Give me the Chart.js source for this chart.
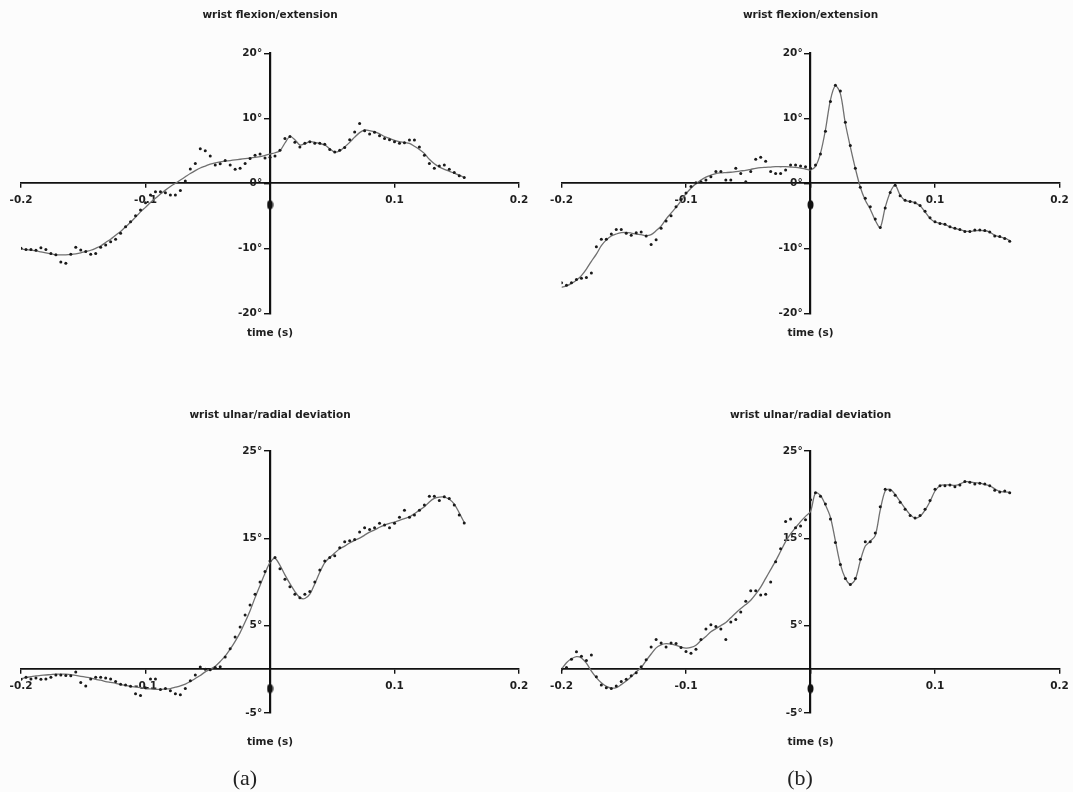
<!DOCTYPE html>
<html lang="en">
<head>
<meta charset="UTF-8">
<title>Wrist angles around ball impact</title>
<script src="https://cdn.jsdelivr.net/npm/chart.js"></script>
<style>
  html, body { margin: 0; padding: 0; background: #fcfcfc; }
  #page { position: relative; width: 1073px; height: 792px; overflow: hidden; }
  canvas { position: absolute; }
  .panel-label {
    position: absolute; top: 765px; width: 60px; margin-left: -30px;
    text-align: center; font-family: 'Liberation Serif', 'DejaVu Serif', serif;
    font-size: 22px; line-height: 26px; color: #222;
  }
</style>
</head>
<body>
<div id="page">
  <canvas id="flexA" width="540" height="390" style="left:0;top:0"></canvas>
  <canvas id="flexB" width="533" height="390" style="left:540px;top:0"></canvas>
  <canvas id="devA" width="540" height="402" style="left:0;top:390px"></canvas>
  <canvas id="devB" width="533" height="402" style="left:540px;top:390px"></canvas>
  <div class="panel-label" style="left:245px">(a)</div>
  <div class="panel-label" style="left:800px">(b)</div>
</div>

<script>
// sample instants (s), 250 Hz, impact at t = 0
const sampleTimes = [
  -0.200, -0.196, -0.192, -0.188, -0.184, -0.180, -0.176, -0.172, -0.168, -0.164,
  -0.160, -0.156, -0.152, -0.148, -0.144, -0.140, -0.136, -0.132, -0.128, -0.124,
  -0.120, -0.116, -0.112, -0.108, -0.104, -0.100, -0.096, -0.092, -0.088, -0.084,
  -0.080, -0.076, -0.072, -0.068, -0.064, -0.060, -0.056, -0.052, -0.048, -0.044,
  -0.040, -0.036, -0.032, -0.028, -0.024, -0.020, -0.016, -0.012, -0.008, -0.004,
  0.000, 0.004, 0.008, 0.012, 0.016, 0.020, 0.024, 0.028, 0.032, 0.036,
  0.040, 0.044, 0.048, 0.052, 0.056, 0.060, 0.064, 0.068, 0.072, 0.076,
  0.080, 0.084, 0.088, 0.092, 0.096, 0.100, 0.104, 0.108, 0.112, 0.116,
  0.120, 0.124, 0.128, 0.132, 0.136, 0.140, 0.144, 0.148, 0.152, 0.156,
  0.160
];

// (a) wrist flexion/extension, degrees
const flexionFitA = [
  -10.1, -10.2, -10.3, -10.4, -10.55, -10.7, -10.85, -11.0, -11.0, -11.0,
  -10.95, -10.85, -10.7, -10.5, -10.3, -10.0, -9.65, -9.1, -8.6, -8.0,
  -7.4, -6.7, -6.0, -5.2, -4.4, -3.7, -2.95, -2.3, -1.65, -1.05,
  -0.5, 0.0, 0.5, 1.0, 1.5, 1.95, 2.35, 2.65, 2.95, 3.15,
  3.3, 3.4, 3.5, 3.6, 3.7, 3.8, 3.9, 4.0, 4.1, 4.3,
  4.5, 4.7, 5.0, 6.2, 7.2, 6.7, 5.9, 6.1, 6.4, 6.3,
  6.1, 5.9, 5.3, 4.8, 5.0, 5.6, 6.3, 7.1, 7.8, 8.2,
  8.1, 7.95, 7.6, 7.2, 6.9, 6.6, 6.4, 6.3, 6.15, 5.7,
  5.2, 4.6, 3.7, 3.0, 2.5, 2.15, 1.85, 1.55, 1.25, 0.9
];
const flexionDotsA = [
  -10.0, -10.2, -10.2, -10.3, -9.9, -10.2, -10.8, -11.0, -12.1, -12.3,
  -10.9, -9.85, -10.25, -10.5, -10.9, -10.8, -9.85, -9.5, -9.0, -8.6,
  -7.7, -6.7, -5.9, -5.0, -4.1, -3.0, -1.8, -1.3, -1.3, -1.45,
  -1.8, -1.8, -1.1, 0.35, 2.2, 3.05, 5.3, 5.0, 4.2, 2.8,
  3.0, 3.5, 2.8, 2.15, 2.3, 3.05, 3.8, 4.3, 4.5, 3.9,
  4.0, 4.2, 5.1, 6.9, 7.2, 6.3, 5.6, 6.15, 6.4, 6.15,
  6.15, 6.0, 5.2, 4.8, 5.1, 5.5, 6.7, 7.9, 9.2, 8.1,
  7.6, 7.85, 7.3, 6.9, 6.7, 6.4, 6.15, 6.25, 6.65, 6.65,
  5.6, 4.3, 3.05, 2.3, 2.65, 2.8, 2.15, 1.65, 1.15, 0.9
];

// (b) wrist flexion/extension, degrees
const flexionFitB = [
  -16.0, -15.8, -15.4, -14.9, -14.2, -13.2, -12.0, -10.9, -9.6, -8.7,
  -8.1, -7.8, -7.6, -7.55, -7.65, -7.8, -7.9, -8.05, -7.9, -7.3,
  -6.6, -5.5, -4.6, -3.7, -2.7, -1.6, -0.75, -0.05, 0.5, 0.95,
  1.25, 1.5, 1.6, 1.65, 1.7, 1.8, 1.9, 2.0, 2.15, 2.3,
  2.4, 2.45, 2.5, 2.55, 2.55, 2.55, 2.5, 2.45, 2.35, 2.2,
  2.05, 2.6, 4.6, 8.2, 12.8, 15.0, 13.8, 9.2, 5.6, 2.3,
  -0.6, -2.6, -4.0, -5.7, -6.8, -3.7, -1.4, -0.3, -1.8, -2.65,
  -2.8, -3.0, -3.45, -4.4, -5.4, -5.95, -6.15, -6.35, -6.7, -6.95,
  -7.15, -7.35, -7.4, -7.3, -7.25, -7.3, -7.5, -8.0, -8.25, -8.45,
  -8.8
];
const flexionDotsB = [
  -15.3, -15.7, -15.3, -14.8, -14.6, -14.5, -13.8, -9.75, -8.6, -8.6,
  -7.8, -7.1, -7.1, -7.7, -8.0, -7.6, -7.5, -8.1, -9.4, -8.7,
  -6.9, -5.8, -5.0, -3.6, -2.5, -1.5, -0.5, 0.1, 0.25, 0.5,
  1.0, 1.8, 1.8, 0.5, 0.5, 2.3, 1.5, 0.25, 1.8, 3.7,
  4.0, 3.4, 1.8, 1.5, 1.5, 2.05, 2.8, 2.8, 2.65, 2.55,
  2.3, 2.8, 4.5, 8.0, 12.6, 15.1, 14.2, 9.4, 5.8, 2.3,
  -0.6, -2.3, -3.6, -5.5, -6.8, -3.8, -1.4, -0.3, -1.9, -2.6,
  -2.8, -3.0, -3.4, -4.3, -5.3, -5.9, -6.2, -6.3, -6.7, -6.9,
  -7.1, -7.4, -7.4, -7.2, -7.2, -7.25, -7.5, -8.1, -8.2, -8.5,
  -8.9
];

// (a) wrist ulnar/radial deviation, degrees
const deviationFitA = [
  -1.1, -0.95, -0.85, -0.75, -0.7, -0.65, -0.6, -0.55, -0.55, -0.55,
  -0.6, -0.7, -0.8, -0.9, -1.0, -1.15, -1.25, -1.4, -1.5, -1.6,
  -1.75, -1.85, -1.95, -2.05, -2.1, -2.2, -2.25, -2.3, -2.3, -2.25,
  -2.2, -2.05, -1.9, -1.7, -1.4, -1.05, -0.7, -0.3, 0.0, 0.35,
  0.9, 1.5, 2.3, 3.2, 4.2, 5.4, 6.7, 8.2, 9.6, 11.0,
  12.2, 12.7, 11.9, 10.8, 9.8, 8.9, 8.2, 8.1, 8.6, 9.8,
  11.1, 12.2, 12.8, 13.3, 13.8, 14.1, 14.45, 14.75, 15.0, 15.35,
  15.7, 15.95, 16.25, 16.5, 16.7, 16.85, 17.05, 17.25, 17.45, 17.8,
  18.2, 18.6, 19.15, 19.55, 19.7, 19.7, 19.45, 18.9, 17.9, 16.8
];
const deviationDotsA = [
  -1.15, -0.9, -1.1, -1.0, -1.15, -1.1, -0.9, -0.65, -0.65, -0.7,
  -0.75, -0.3, -1.5, -1.9, -1.1, -0.9, -0.9, -1.0, -1.1, -1.4,
  -1.7, -1.8, -1.95, -2.8, -3.0, -2.1, -1.1, -1.1, -2.3, -2.2,
  -2.45, -2.8, -2.9, -2.2, -1.3, -0.65, 0.25, 0.0, -0.05, 0.2,
  0.3, 1.4, 2.35, 3.7, 4.85, 6.2, 7.35, 8.6, 10.0, 11.2,
  12.4, 12.8, 11.5, 10.3, 9.45, 8.6, 8.2, 8.6, 8.9, 10.0,
  11.35, 12.4, 12.8, 13.0, 13.9, 14.6, 14.7, 14.85, 15.7, 16.2,
  16.0, 16.2, 16.7, 16.5, 16.2, 16.7, 17.4, 18.2, 17.4, 17.65,
  18.2, 18.8, 19.8, 19.8, 19.3, 19.75, 19.55, 18.8, 17.65, 16.75
];

// (b) wrist ulnar/radial deviation, degrees
const deviationFitB = [
  0.0, 0.75, 1.2, 1.45, 1.3, 0.7, -0.2, -0.95, -1.55, -1.95,
  -2.15, -2.1, -1.75, -1.35, -0.85, -0.3, 0.2, 1.0, 1.75, 2.45,
  2.8, 2.93, 2.88, 2.75, 2.55, 2.43, 2.5, 2.75, 3.3, 3.75,
  4.3, 4.65, 5.0, 5.35, 5.9, 6.45, 6.95, 7.4, 7.9, 8.6,
  9.4, 10.4, 11.4, 12.4, 13.5, 14.6, 15.5, 16.2, 16.9, 17.5,
  18.05, 20.2, 19.9, 18.8, 17.4, 14.7, 12.0, 10.4, 9.75, 10.3,
  12.4, 14.1, 14.65, 15.3, 18.2, 20.4, 20.6, 20.0, 19.2, 18.4,
  17.7, 17.3, 17.5, 18.2, 19.2, 20.4, 21.0, 21.1, 21.1, 21.05,
  21.2, 21.45, 21.45, 21.35, 21.3, 21.15, 21.0, 20.65, 20.35, 20.3,
  20.25
];
const deviationDotsB = [
  0.0, 0.2, 1.15, 2.0, 1.5, 1.0, 1.65, -0.85, -1.8, -2.1,
  -2.2, -1.9, -1.4, -1.15, -0.75, -0.4, 0.3, 1.1, 2.55, 3.4,
  3.0, 2.55, 3.0, 2.95, 2.5, 2.05, 1.85, 2.3, 3.4, 4.6,
  5.1, 4.9, 4.6, 3.4, 5.4, 5.7, 6.55, 7.8, 9.0, 9.0,
  8.5, 8.6, 10.0, 12.3, 13.8, 16.9, 17.2, 16.2, 16.4, 17.1,
  19.4, 20.2, 19.8, 18.9, 17.2, 14.5, 12.0, 10.4, 9.7, 10.4,
  12.6, 14.6, 14.6, 15.6, 18.6, 20.6, 20.5, 19.9, 19.1, 18.3,
  17.6, 17.3, 17.6, 18.3, 19.3, 20.6, 21.0, 21.0, 21.1, 20.9,
  21.1, 21.5, 21.4, 21.2, 21.3, 21.2, 21.0, 20.5, 20.3, 20.4,
  20.2
];

// impact marker just below the axis
const onsetTime = [0];
const onsetFlexion = [-3.3];
const onsetDeviation = [-2.2];

const timeTickLabels = ['-0.2', '-0.1', '', '0.1', '0.2'];
const flexionTickLabels = ['-20°', '-10°', '0°', '10°', '20°'];
const deviationTickLabels = ['-5°', '5°', '15°', '25°'];

Chart.defaults.font.family = "'DejaVu Sans', sans-serif";
Chart.defaults.color = '#1e1e1e';

// labels of an axis placed at x = 0 sit flush on the line, so keep a gap after them
const labelGap = '\u2002\u2005';

// small upright ellipse used for the impact marker
const onsetGlyph = document.createElement('canvas');
onsetGlyph.width = 7;
onsetGlyph.height = 10;
(function () {
  const g = onsetGlyph.getContext('2d');
  g.fillStyle = '#111';
  g.beginPath();
  g.ellipse(3.5, 5, 3, 4.5, 0, 0, Math.PI * 2);
  g.fill();
})();

function toPoints(values, times) {
  return values.map((v, i) => ({ x: times[i], y: v }));
}

function noPadding(scale) {
  scale.paddingLeft = 0;
  scale.paddingRight = 0;
  scale.paddingTop = 0;
  scale.paddingBottom = 0;
}

function makeChart(id, cfg) {
  const tickFont = { size: 10.5, weight: 'bold' };
  new Chart(document.getElementById(id), {
    type: 'line',
    data: {
      datasets: [
        {
          data: toPoints(cfg.fit, sampleTimes),
          borderColor: '#707070',
          borderWidth: 1.3,
          pointRadius: 0,
          tension: 0.3,
          fill: false,
          order: 3
        },
        {
          data: toPoints(cfg.dots, sampleTimes),
          showLine: false,
          pointRadius: 1.5,
          pointBorderWidth: 0,
          pointBackgroundColor: '#1a1a1a',
          order: 2
        },
        {
          data: toPoints(cfg.onset, onsetTime),
          showLine: false,
          pointStyle: onsetGlyph,
          pointRadius: 5,
          order: 1
        }
      ]
    },
    options: {
      responsive: false,
      animation: false,
      events: [],
      layout: { padding: cfg.padding },
      plugins: {
        legend: { display: false },
        tooltip: { enabled: false },
        title: {
          display: true,
          text: cfg.title,
          font: { size: 10.5, weight: 'bold' },
          color: '#1e1e1e',
          padding: cfg.titlePadding
        },
        subtitle: {
          display: true,
          position: 'bottom',
          text: 'time (s)',
          font: { size: 10.5, weight: 'bold' },
          color: '#1e1e1e',
          padding: cfg.timePadding
        }
      },
      scales: {
        x: {
          type: 'linear',
          min: -0.2,
          max: 0.2,
          position: { y: 0 },
          afterFit: noPadding,
          border: { display: true, color: '#111', width: 1.8 },
          grid: { drawOnChartArea: false, drawTicks: true, tickLength: 4, color: '#111', lineWidth: 1.4 },
          ticks: {
            stepSize: 0.1,
            autoSkip: false,
            maxRotation: 0,
            padding: 7,
            font: tickFont,
            callback: (value, index) => timeTickLabels[index]
          }
        },
        y: {
          type: 'linear',
          min: cfg.yMin,
          max: cfg.yMax,
          position: { x: 0 },
          afterFit: noPadding,
          border: { display: true, color: '#111', width: 2.2 },
          grid: { drawOnChartArea: false, drawTicks: true, tickLength: 5, color: '#111', lineWidth: 1.4 },
          ticks: {
            stepSize: 10,
            autoSkip: false,
            font: tickFont,
            callback: (value, index) => cfg.yLabels[index] + labelGap
          }
        }
      }
    }
  });
}

const topTitlePad = { top: 9.2, bottom: 31.5 };
const topTimePad = { top: 13.4, bottom: 50.7 };
const lowTitlePad = { top: 18.7, bottom: 29.5 };
const lowTimePad = { top: 22.7, bottom: 43.7 };
const leftPad = { left: 21, right: 21, top: 0, bottom: 0 };
const rightPad = { left: 21.5, right: 13.5, top: 0, bottom: 0 };

makeChart('flexA', {
  title: 'wrist flexion/extension', fit: flexionFitA, dots: flexionDotsA, onset: onsetFlexion,
  yMin: -20, yMax: 20, yLabels: flexionTickLabels,
  padding: leftPad, titlePadding: topTitlePad, timePadding: topTimePad
});
makeChart('flexB', {
  title: 'wrist flexion/extension', fit: flexionFitB, dots: flexionDotsB, onset: onsetFlexion,
  yMin: -20, yMax: 20, yLabels: flexionTickLabels,
  padding: rightPad, titlePadding: topTitlePad, timePadding: topTimePad
});
makeChart('devA', {
  title: 'wrist ulnar/radial deviation', fit: deviationFitA, dots: deviationDotsA, onset: onsetDeviation,
  yMin: -5, yMax: 25, yLabels: deviationTickLabels,
  padding: leftPad, titlePadding: lowTitlePad, timePadding: lowTimePad
});
makeChart('devB', {
  title: 'wrist ulnar/radial deviation', fit: deviationFitB, dots: deviationDotsB, onset: onsetDeviation,
  yMin: -5, yMax: 25, yLabels: deviationTickLabels,
  padding: rightPad, titlePadding: lowTitlePad, timePadding: lowTimePad
});
</script>
</body>
</html>
